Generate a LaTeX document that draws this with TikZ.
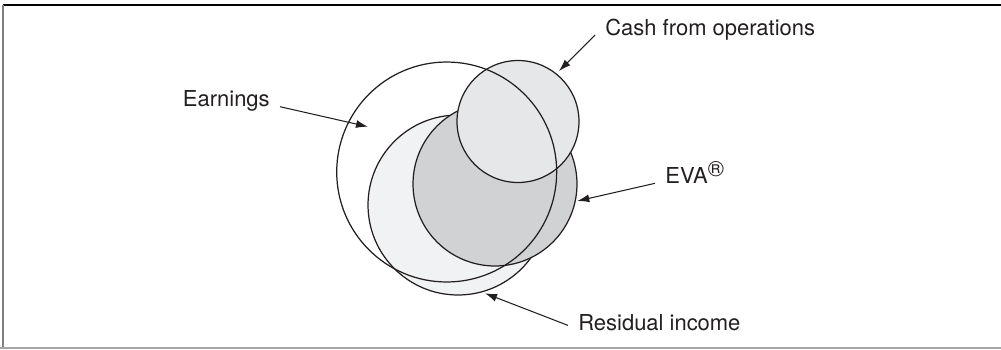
\documentclass[tikz,border=0pt]{standalone}
\usepackage{fontspec}
\setmainfont{TeX Gyre Heros}
\usetikzlibrary{arrows.meta}

\definecolor{ink}{HTML}{231F20}
\definecolor{resfill}{HTML}{F1F2F3}
\definecolor{evafill}{HTML}{D1D2D4}
\definecolor{cashfill}{HTML}{E6E7E8}

\begin{document}
\begin{tikzpicture}[x=0.02cm, y=-0.02cm,
    blob/.style={circle, draw=ink, line width=0.7pt, inner sep=0pt},
    lbl/.style={text=ink, font=\fontsize{12.5}{15}\selectfont, inner xsep=2mm, inner ysep=0.5mm},
    arr/.style={draw=ink, line width=0.6pt, -{Latex[length=0.24cm, width=0.16cm]}}]
    \useasboundingbox (0,0) rectangle (1001,349);
    \draw[line width=0.8pt] (3,5) -- (1001,5);
    \draw[gray, line width=0.8pt] (3,5) -- (3,349);
    \draw[black!35, line width=0.8pt] (0,348) -- (1001,348);

    \node[blob, fill=resfill, minimum size=3.6cm] (resid) at (458,205) {};
    \node[blob, fill=evafill, minimum size=3.28cm] (eva) at (495,184) {};
    \node[blob, fill=cashfill, minimum size=2.44cm] (cash) at (518,121.5) {};
    \node[blob, minimum size=4.4cm] (earn) at (446.7,172) {};

    \node[lbl, anchor=base east] (earnlbl) at (280,106.7) {Earnings};
    \node[lbl, anchor=base west] (cashlbl) at (595,35) {Cash from operations};
    \node[lbl, anchor=base west] (evalbl) at (655,183.3) {EVA\raisebox{4pt}{\fontsize{12.5}{12}\selectfont\textregistered}};
    \node[lbl, anchor=base west] (residlbl) at (568,330) {Residual income};

    \coordinate (earntip) at (368,126.7);
    \coordinate (cashtip) at (559,71);
    \coordinate (evatip) at (577.3,201);
    \coordinate (residtip) at (485,293.3);

    \draw[arr] (earnlbl.base east) -- (earntip);
    \draw[arr] (cashlbl.base west) -- (cashtip);
    \draw[arr] (evalbl.base west) -- (evatip);
    \draw[arr] (residlbl.mid west) -- (residtip);
\end{tikzpicture}
\end{document}
